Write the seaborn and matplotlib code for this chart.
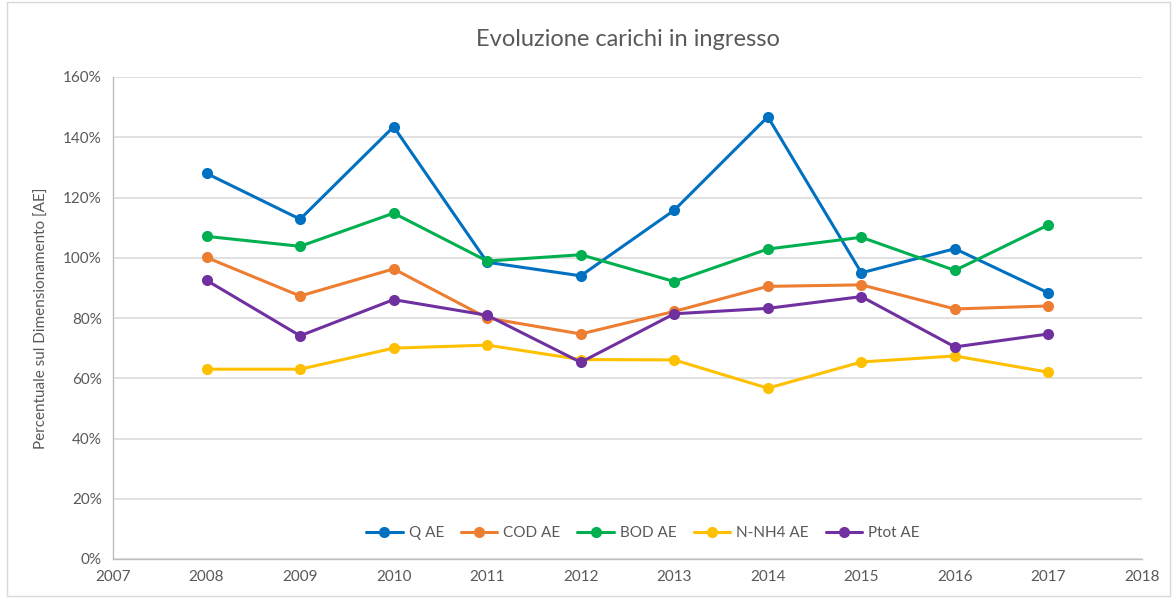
import numpy as np
import pandas as pd
import matplotlib.pyplot as plt
import matplotlib.patches as mpatches
import seaborn as sns
from matplotlib.ticker import PercentFormatter

# --- data (percent of design load, AE) ---
YEARS = [2008, 2009, 2010, 2011, 2012, 2013, 2014, 2015, 2016, 2017]
Q_AE = [128.0, 112.8, 143.5, 98.5, 94.0, 115.8, 146.8, 95.0, 103.0, 88.3]
COD_AE = [100.1, 87.3, 96.3, 80.0, 74.7, 82.2, 90.5, 91.0, 83.0, 84.0]
BOD_AE = [107.1, 103.8, 114.8, 98.9, 101.0, 92.1, 102.9, 106.8, 95.8, 110.9]
NH4_AE = [63.0, 63.0, 70.0, 71.0, 66.2, 66.1, 56.7, 65.4, 67.4, 62.0]
PTOT_AE = [92.5, 74.1, 86.1, 80.9, 65.3, 81.4, 83.2, 87.1, 70.4, 74.7]

SERIES = ["Q AE", "COD AE", "BOD AE", "N-NH4 AE", "Ptot AE"]
COLORS = ["#0070C0", "#ED7D31", "#00B050", "#FFC000", "#7030A0"]

df = pd.DataFrame({"Anno": YEARS, "Q AE": Q_AE, "COD AE": COD_AE,
                   "BOD AE": BOD_AE, "N-NH4 AE": NH4_AE, "Ptot AE": PTOT_AE})
long_df = df.melt(id_vars="Anno", var_name="Serie", value_name="Valore")

sns.set_style("white")
plt.rcParams['font.family'] = ['Lato', 'DejaVu Sans']
TXT = "#595959"

fig = plt.figure(figsize=(11.75, 5.98), dpi=100)
ax = fig.add_axes([113 / 1175, 1 - 559 / 598, (1142 - 113) / 1175, (559 - 77) / 598])

sns.lineplot(data=long_df, x="Anno", y="Valore", hue="Serie", hue_order=SERIES,
             palette=COLORS, marker="o", markersize=8, markeredgewidth=0,
             linewidth=2.2, ax=ax)

ax.set_xlim(2007, 2018)
ax.set_ylim(0, 160)
ax.set_xticks(range(2007, 2019))
ax.set_yticks(range(0, 161, 20))
ax.yaxis.set_major_formatter(PercentFormatter(decimals=0))
ax.grid(axis="y", color="#D9D9D9", linewidth=1.1)
ax.set_axisbelow(True)
for s in ["top", "right"]:
    ax.spines[s].set_visible(False)
for s in ["left", "bottom"]:
    ax.spines[s].set_color("#BFBFBF")
    ax.spines[s].set_linewidth(1.0)
ax.tick_params(axis="both", colors=TXT, labelsize=11, length=0, pad=8)
ax.set_xlabel("")
ax.set_ylabel("Percentuale sul Dimensionamento [AE]", color=TXT, fontsize=11, labelpad=10)
ax.set_title("Evoluzione carichi in ingresso", color=TXT, fontsize=17, pad=22)

ax.legend(loc="lower center", bbox_to_anchor=(0.515, 0.01), ncol=5, frameon=False,
          fontsize=11, labelcolor=TXT, handlelength=2.4, handletextpad=0.4,
          columnspacing=1.1)

fig.patches.append(mpatches.Rectangle((0.006, 0.003), 0.99, 0.994, transform=fig.transFigure,
                                      fill=False, edgecolor="#D9D9D9", linewidth=1))

fig.savefig("out.png", dpi=100)
